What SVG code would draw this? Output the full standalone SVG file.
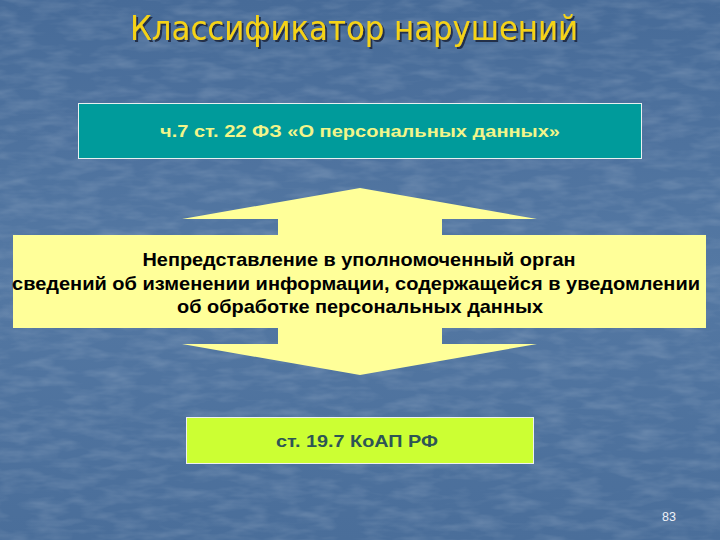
<svg xmlns="http://www.w3.org/2000/svg" width="720" height="540" viewBox="0 0 720 540">
<defs>
<filter id="tex" x="0" y="0" width="100%" height="100%">
<feTurbulence type="fractalNoise" baseFrequency="0.03 0.1" numOctaves="3" seed="7" result="n"/>
<feColorMatrix in="n" type="matrix" values="0 0 0 0 1  0 0 0 0 1  0 0 0 0 1  0 0 0 0.9 -0.35" result="w"/>
<feComposite in="w" in2="SourceGraphic" operator="in"/>
</filter>
<filter id="sh" x="-5%" y="-20%" width="110%" height="140%">
<feDropShadow dx="2" dy="2" stdDeviation="0.6" flood-color="#1a2a40" flood-opacity="0.9"/>
</filter>
<linearGradient id="bg" x1="0" y1="0" x2="0" y2="1">
<stop offset="0" stop-color="#476b98"/>
<stop offset="0.5" stop-color="#5478a3"/>
<stop offset="1" stop-color="#4a6e9a"/>
</linearGradient>
</defs>
<style>
.b{font-family:"Liberation Sans",Arial,sans-serif;font-weight:bold;text-anchor:middle}
.mid{font-size:18.5px;fill:#000}
</style>
<rect width="720" height="540" fill="url(#bg)"/>
<rect width="720" height="540" fill="#fff" filter="url(#tex)" opacity="0.3"/>
<text x="354" y="40" font-family="'DejaVu Sans Condensed','DejaVu Sans',sans-serif" font-size="33" fill="#f5d316" text-anchor="middle" textLength="448" lengthAdjust="spacingAndGlyphs" filter="url(#sh)">Классификатор нарушений</text>
<g id="node-law">
<rect x="78.5" y="103.5" width="563" height="55" fill="#009b9b" stroke="#e8f0f0" stroke-width="1"/>
<text class="b" x="360" y="137" font-size="17" fill="#f2f58a" textLength="400" lengthAdjust="spacingAndGlyphs">ч.7 ст. 22 ФЗ «О персональных данных»</text>
</g>
<g id="connectors"></g>
<g id="node-violation">
<path d="M360 188 L537 219 L442 219 L442 235 L706 235 L706 328 L442 328 L442 344 L537 344 L360 375 L182 344 L278 344 L278 328 L13 328 L13 235 L278 235 L278 219 L182 219 Z" fill="#ffff99"/>
<text class="b mid" x="359" y="266" textLength="433" lengthAdjust="spacingAndGlyphs">Непредставление в уполномоченный орган</text>
<text class="b mid" x="356" y="290" textLength="688" lengthAdjust="spacingAndGlyphs">сведений об изменении информации, содержащейся в уведомлении</text>
<text class="b mid" x="360" y="313" textLength="366" lengthAdjust="spacingAndGlyphs">об обработке персональных данных</text>
</g>
<g id="node-koap">
<rect x="186.5" y="417.5" width="347" height="46" fill="#ccff33" stroke="#eef0f0" stroke-width="1"/>
<text class="b" x="357" y="447" font-size="16.5" fill="#2e5555" textLength="162" lengthAdjust="spacingAndGlyphs">ст. 19.7 КоАП РФ</text>
</g>
<text x="669" y="521" font-family="'Liberation Sans',Arial,sans-serif" font-size="12.5" fill="#eef2f8" text-anchor="middle">83</text>
</svg>
